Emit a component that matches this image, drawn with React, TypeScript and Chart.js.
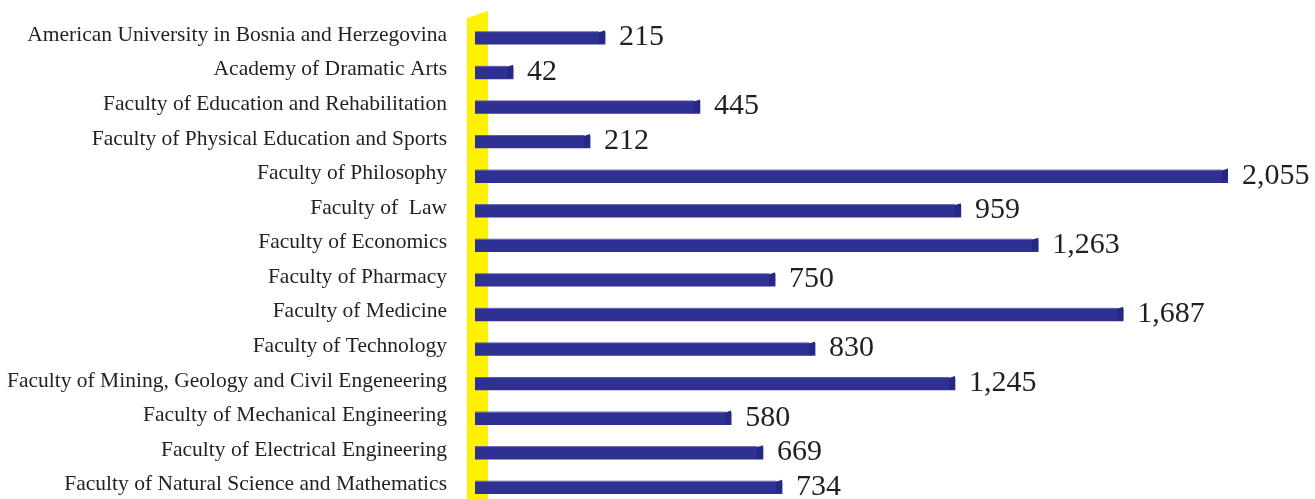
import React, { useEffect, useRef } from "react";
import { Chart, registerables } from "chart.js";

Chart.register(...registerables);

const categories: string[] = [
  "American University in Bosnia and Herzegovina",
  "Academy of Dramatic Arts",
  "Faculty of Education and Rehabilitation",
  "Faculty of Physical Education and Sports",
  "Faculty of Philosophy",
  "Faculty of  Law",
  "Faculty of Economics",
  "Faculty of Pharmacy",
  "Faculty of Medicine",
  "Faculty of Technology",
  "Faculty of Mining, Geology and Civil Engeneering",
  "Faculty of Mechanical Engineering",
  "Faculty of Electrical Engineering",
  "Faculty of Natural Science and Mathematics",
];

// numbers printed next to the bars
const studentCounts: number[] = [215, 42, 445, 212, 2055, 959, 1263, 750, 1687, 830, 1245, 580, 669, 734];

// bar lengths as drawn in the picture (same units, scaled so that 2,055 matches)
const barLengths: number[] = [355, 104, 614, 314, 2055, 1326, 1537, 819, 1769, 928, 1310, 699, 786, 838];

const BAR_COLOR = "#2E3192";
const CAP_COLOR = "#262983";
const WALL_COLOR = "#FFF200";
const TEXT_COLOR = "#231F20";
const FONT = "'Liberation Serif', 'Times New Roman', serif";

const fmt = (n: number) => n.toLocaleString("en-US");

const decorPlugin = {
  id: "decor",
  beforeDatasetsDraw(chart: any) {
    const { ctx, chartArea } = chart;
    const l = chartArea.left;
    const t = chartArea.top;
    ctx.save();
    ctx.fillStyle = WALL_COLOR;
    ctx.beginPath();
    ctx.moveTo(l - 8, t - 3);
    ctx.lineTo(l + 13, t - 10);
    ctx.lineTo(l + 13, chart.height);
    ctx.lineTo(l - 8, chart.height);
    ctx.closePath();
    ctx.fill();

    // category labels, positioned by the category scale
    const yScale = chart.scales.y;
    ctx.fillStyle = TEXT_COLOR;
    ctx.font = `21.5px ${FONT}`;
    ctx.textAlign = "right";
    ctx.textBaseline = "middle";
    categories.forEach((c, i) => {
      ctx.fillText(c, l - 28, yScale.getPixelForValue(i) - 3);
    });
    ctx.restore();
  },
  afterDatasetsDraw(chart: any) {
    const { ctx } = chart;
    const meta = chart.getDatasetMeta(0);
    ctx.save();
    meta.data.forEach((bar: any, i: number) => {
      const h = bar.height;
      const top = bar.y - h / 2;
      const bottom = bar.y + h / 2;
      const end = bar.x;
      // right end cap (3D look)
      ctx.fillStyle = CAP_COLOR;
      ctx.beginPath();
      ctx.moveTo(end - 6, top);
      ctx.lineTo(end, top - 2);
      ctx.lineTo(end, bottom - 2);
      ctx.lineTo(end - 6, bottom);
      ctx.closePath();
      ctx.fill();
      // thin lighter top face
      ctx.fillStyle = "#5a5caa";
      ctx.fillRect(bar.base, top - 1, end - 6 - bar.base, 1);
      // value label
      ctx.fillStyle = TEXT_COLOR;
      ctx.font = `30px ${FONT}`;
      ctx.textAlign = "left";
      ctx.textBaseline = "alphabetic";
      ctx.fillText(fmt(studentCounts[i]), end + 14, bar.y + 7);
    });
    ctx.restore();
  },
};

export default function App() {
  const ref = useRef<HTMLCanvasElement | null>(null);

  useEffect(() => {
    if (!ref.current) return;
    const chart = new Chart(ref.current, {
      type: "bar",
      data: {
        labels: categories,
        datasets: [
          {
            data: barLengths,
            backgroundColor: BAR_COLOR,
            borderWidth: 0,
            barThickness: 12,
          },
        ],
      },
      options: {
        indexAxis: "y",
        animation: false,
        responsive: false,
        maintainAspectRatio: false,
        layout: { padding: { top: 21, right: 87, bottom: 5, left: 0 } },
        plugins: {
          legend: { display: false },
          tooltip: { enabled: false },
          title: { display: false },
        },
        scales: {
          x: {
            display: false,
            min: 0,
            max: 2055,
          },
          y: {
            grid: { display: false },
            border: { display: false },
            ticks: { display: false },
            afterFit(scale: any) {
              scale.width = 475;
              scale.paddingTop = 0;
              scale.paddingBottom = 0;
            },
          },
        },
      },
      plugins: [decorPlugin],
    });
    return () => chart.destroy();
  }, []);

  return (
    <div
      style={{
        position: "fixed",
        left: 0,
        top: 0,
        width: 1315,
        height: 499,
        overflow: "hidden",
        background: "#fff",
      }}
    >
      <canvas ref={ref} width={1315} height={510} style={{ display: "block" }} />
    </div>
  );
}
